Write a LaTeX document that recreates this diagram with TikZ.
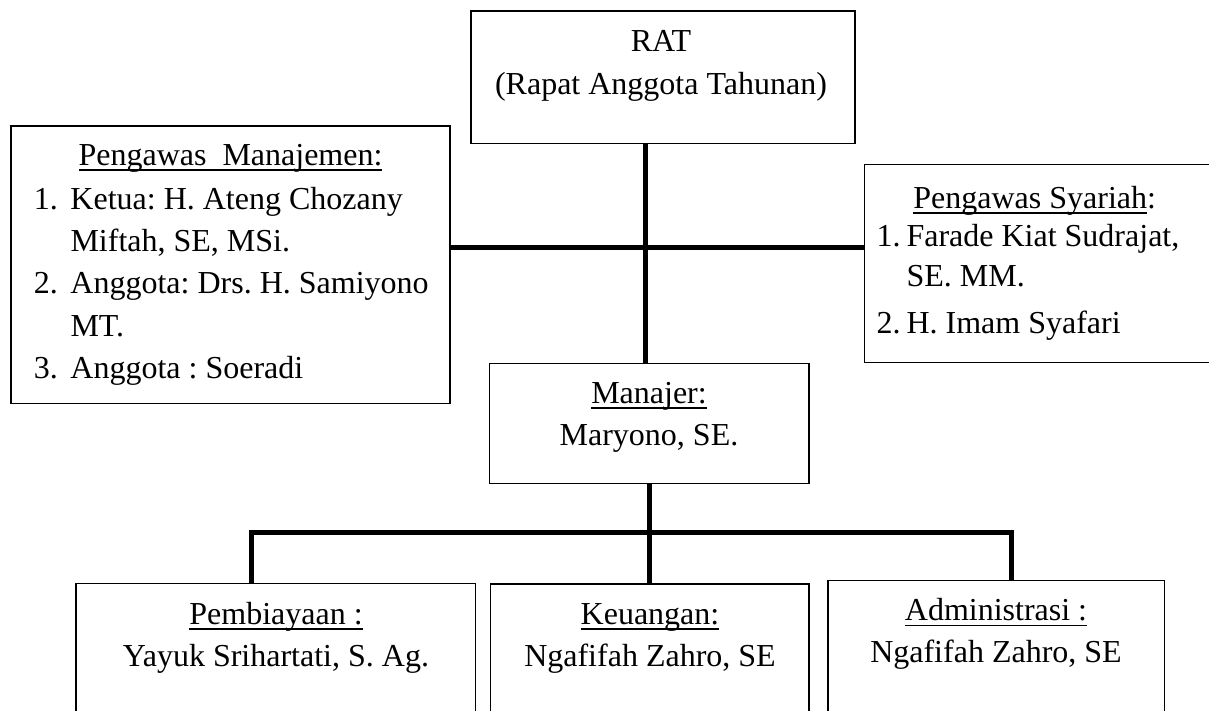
\documentclass[tikz,border=0pt]{standalone}
\usepackage{fontspec}
\setmainfont{Liberation Serif}
\newcommand{\uln}[1]{\leavevmode\setbox0\hbox{#1}\rlap{\rule[-2.1pt]{\wd0}{0.55pt}}\box0}
\tikzset{
  box/.style={draw, line width=0.5pt, inner sep=0pt, outer sep=0pt},
  txt/.style={inner sep=0pt, font=\fontsize{12}{15.9}\selectfont\frenchspacing},
  link/.style={line width=1.9pt}
}
\begin{document}
\begin{tikzpicture}[x=0.375pt, y=-0.375pt]
  \useasboundingbox (0,0) rectangle (1209,710);
  \clip (0,0) rectangle (1209,710);

  \node[box, minimum width=144pt, minimum height=49.6pt] (rat) at (663,77.15) {};
  \node[box, minimum width=164.6pt, minimum height=104pt] (pm) at (230.5,264.65) {};
  \node[box, minimum width=135.3pt, minimum height=74.25pt] (ps) at (1044.65,263.3) {};
  \node[box, minimum width=119.9pt, minimum height=45pt] (man) at (649.15,423.3) {};
  \node[box, minimum width=149.9pt, minimum height=66.3pt] (pb) at (275.85,671.65) {};
  \node[box, minimum width=119.5pt, minimum height=66pt] (ku) at (649.65,672) {};
  \node[box, minimum width=126.2pt, minimum height=67.3pt] (ad) at (996.3,670.25) {};

  \node[txt, anchor=base] (ratlbl) at (661,51.7)
    {\begin{tabular}[t]{@{}c@{}}RAT\\(Rapat Anggota Tahunan)\end{tabular}};
  \node[txt, anchor=base] (pmhead) at (230.5,165) {\uln{Pengawas\ \ Manajemen:}};
  \node[txt, anchor=base west] (pmlist) at (33.3,209)
    {\begin{tabular}[t]{@{}p{13.75pt}@{}l@{}}
      1. & Ketua: H. Ateng Chozany\\
         & Miftah, SE, MSi.\\
      2. & Anggota: Drs. H. Samiyono\\
         & MT.\\
      3. & Anggota : Soeradi
    \end{tabular}};
  \node[txt, anchor=base] (pshead) at (1034.7,208.3) {\uln{Pengawas Syariah}:};
  \node[txt, anchor=base west] (pslist) at (876,246.7)
    {\begin{tabular}[t]{@{}p{11.25pt}@{}l@{}}
      1. & Farade Kiat Sudrajat,\\[-0.9pt]
         & SE. MM.\\[1.6pt]
      2. & H. Imam Syafari
    \end{tabular}};
  \node[txt, anchor=base] (manlbl) at (649,403.3)
    {\begin{tabular}[t]{@{}c@{}}\uln{Manajer:}\\Maryono, SE.\end{tabular}};
  \node[txt, anchor=base] (pblbl) at (276,624)
    {\begin{tabular}[t]{@{}c@{}}\uln{Pembiayaan :}\\Yayuk Srihartati, S. Ag.\end{tabular}};
  \node[txt, anchor=base] (kulbl) at (650,624)
    {\begin{tabular}[t]{@{}c@{}}\uln{Keuangan:}\\Ngafifah Zahro, SE\end{tabular}};
  \node[txt, anchor=base] (adlbl) at (996,620.5)
    {\begin{tabular}[t]{@{}c@{}}\uln{Administrasi :}\\Ngafifah Zahro, SE\end{tabular}};

  \coordinate (hub) at (645.5,247.7);
  \coordinate (busl) at (251.7,532.7);
  \coordinate (busr) at (1011.8,532.7);

  \draw[link] (rat.south -| hub) -- (man.north -| hub);
  \draw[link] (pm.east |- hub) -- (ps.west |- hub);
  \draw[link] (man.south) -- (man.south |- ku.north);
  \draw[link] (busl |- pb.north) -- (busl) -- (busr) -- (busr |- ad.north);
\end{tikzpicture}
\end{document}
